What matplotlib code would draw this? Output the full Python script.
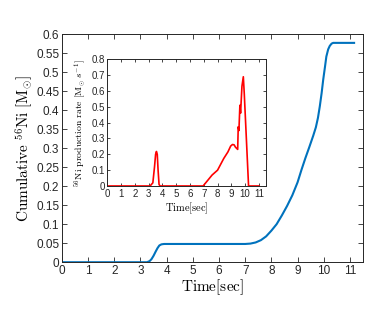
import matplotlib
matplotlib.use("Agg")
import matplotlib.pyplot as plt
import numpy as np

# Cumulative 56Ni (main axes)
blue_t = [0, 3.25, 3.35, 3.42, 3.5, 3.58, 3.65, 3.72, 3.8, 3.9, 7.0, 7.2, 7.4, 7.6, 7.8,
          8.0, 8.2, 8.4, 8.6, 8.8, 9.0, 9.15, 9.3, 9.45, 9.6, 9.7, 9.78, 9.85, 9.92,
          9.98, 10.05, 10.1, 10.17, 10.23, 10.3, 10.36, 10.5, 11.16]
blue_m = [0, 0, 0.003, 0.008, 0.017, 0.028, 0.037, 0.044, 0.047, 0.048, 0.048, 0.049, 0.052,
          0.058, 0.068, 0.083, 0.1, 0.123, 0.148, 0.176, 0.21, 0.243, 0.274, 0.303, 0.333,
          0.355, 0.38, 0.41, 0.445, 0.48, 0.515, 0.541, 0.56, 0.569, 0.575, 0.577, 0.577, 0.577]

# 56Ni production rate (inset)
red_t = [0, 3.1, 3.3, 3.42, 3.5, 3.56, 3.62, 3.68, 3.75, 3.82, 6.95, 7.6, 8.0, 8.45,
         8.75, 8.95, 9.08, 9.2, 9.3, 9.46, 9.5, 9.55, 9.62, 9.67, 9.77, 9.87, 9.94, 10.25, 11.0]
red_r = [0, 0, 0.02, 0.12, 0.2, 0.218, 0.2, 0.1, 0.01, 0, 0, 0.069, 0.1, 0.174,
         0.215, 0.252, 0.262, 0.26, 0.245, 0.231, 0.374, 0.35, 0.51, 0.46, 0.63, 0.69, 0.58, 0, 0]

main_xticks = list(range(0, 12))
main_yticks = [0, 0.05, 0.1, 0.15, 0.2, 0.25, 0.3, 0.35, 0.4, 0.45, 0.5, 0.55, 0.6]
main_yticklabels = ["0", "0.05", "0.1", "0.15", "0.2", "0.25", "0.3", "0.35", "0.4", "0.45", "0.5", "0.55", "0.6"]
inset_xticks = list(range(0, 12))
inset_yticks = [0, 0.1, 0.2, 0.3, 0.4, 0.5, 0.6, 0.7, 0.8]
inset_yticklabels = ["0", "0.1", "0.2", "0.3", "0.4", "0.5", "0.6", "0.7", "0.8"]

plt.rcParams['font.family'] = ['Liberation Sans', 'DejaVu Sans']
plt.rcParams['mathtext.fontset'] = 'cm'

spine_col = '#262626'
fig = plt.figure(figsize=(3.92, 3.19), dpi=100)
ax = fig.add_axes([0.158, 0.178, 0.768, 0.715])
ax.plot(blue_t, blue_m, color='#0072BD', lw=1.5, solid_joinstyle='round')
ax.set_xlim(0, 11.5)
ax.set_ylim(0, 0.6)
ax.set_xticks(main_xticks)
ax.set_yticks(main_yticks)
ax.set_yticklabels(main_yticklabels)
ax.tick_params(direction='in', top=True, right=True, length=3.5, width=0.6,
               labelsize=8.5, color=spine_col, labelcolor='#262626', pad=2)
for s in ax.spines.values():
    s.set_color(spine_col)
    s.set_linewidth(0.7)
ax.set_xlabel(r'$\mathrm{Time[sec]}$', fontsize=11, labelpad=0)
ax.set_ylabel(r'$\mathrm{Cumulative}\ ^{56}\mathrm{Ni}\ [\mathrm{M}_{\odot}]$', fontsize=11, labelpad=1)

ins = fig.add_axes([0.274, 0.417, 0.404, 0.397])
ins.set_facecolor('white')
ins.plot(red_t, red_r, color='#FF0000', lw=1.2)
ins.set_xlim(0, 11.5)
ins.set_ylim(0, 0.8)
ins.set_xticks(inset_xticks)
ins.set_yticks(inset_yticks)
ins.set_yticklabels(inset_yticklabels)
ins.tick_params(direction='in', top=True, right=True, length=2.5, width=0.6,
                labelsize=7, color=spine_col, labelcolor='#262626', pad=2)
for s in ins.spines.values():
    s.set_color(spine_col)
    s.set_linewidth(0.7)
ins.set_xlabel(r'$\mathrm{Time[sec]}$', fontsize=7.5, labelpad=1)
ins.set_ylabel(r'$^{56}\mathrm{Ni\ production\ rate}\ [\mathrm{M}_{\odot}\ s^{-1}]$', fontsize=7, labelpad=2)

fig.savefig('out.png', dpi=100)
